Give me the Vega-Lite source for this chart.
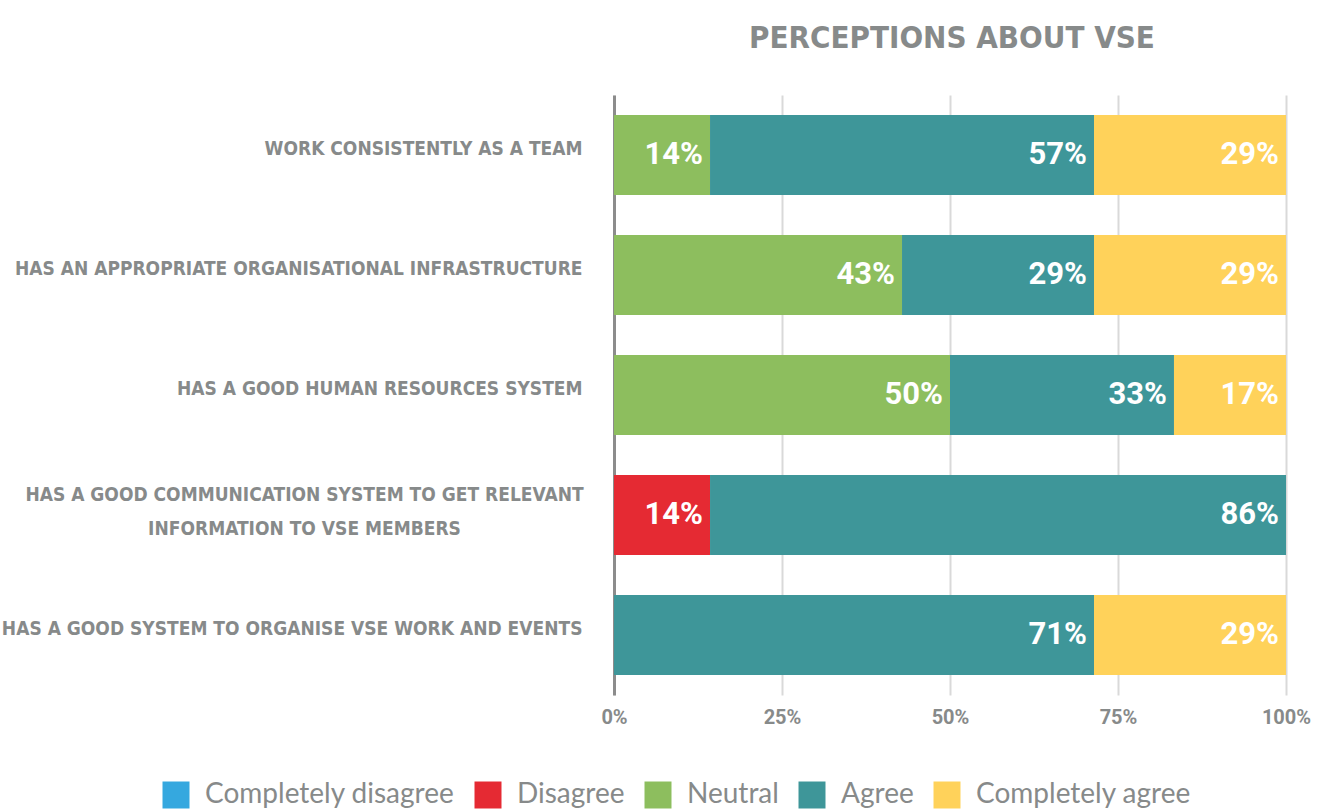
{
  "$schema": "https://vega.github.io/schema/vega-lite/v6.json",
  "autosize": {"type": "none"},
  "padding": {"left": 614, "top": 95, "right": 41, "bottom": 115},
  "width": 672,
  "height": 600,
  "background": "white",
  "title": {
    "text": "PERCEPTIONS ABOUT VSE",
    "anchor": "middle",
    "font": "DejaVu Sans Condensed",
    "fontSize": 31,
    "fontWeight": "bold",
    "color": "#878a8a",
    "offset": 40,
    "dx": 2
  },
  "data": {
    "values": [
      {"statement": "WORK CONSISTENTLY AS A TEAM", "response": "Neutral", "code": 3, "pct": 0.1429},
      {"statement": "WORK CONSISTENTLY AS A TEAM", "response": "Agree", "code": 4, "pct": 0.5714},
      {"statement": "WORK CONSISTENTLY AS A TEAM", "response": "Completely agree", "code": 5, "pct": 0.2857},
      {"statement": "HAS AN APPROPRIATE ORGANISATIONAL INFRASTRUCTURE", "response": "Neutral", "code": 3, "pct": 0.4286},
      {"statement": "HAS AN APPROPRIATE ORGANISATIONAL INFRASTRUCTURE", "response": "Agree", "code": 4, "pct": 0.2857},
      {"statement": "HAS AN APPROPRIATE ORGANISATIONAL INFRASTRUCTURE", "response": "Completely agree", "code": 5, "pct": 0.2857},
      {"statement": "HAS A GOOD HUMAN RESOURCES SYSTEM", "response": "Neutral", "code": 3, "pct": 0.5},
      {"statement": "HAS A GOOD HUMAN RESOURCES SYSTEM", "response": "Agree", "code": 4, "pct": 0.3333},
      {"statement": "HAS A GOOD HUMAN RESOURCES SYSTEM", "response": "Completely agree", "code": 5, "pct": 0.1667},
      {"statement": "HAS A GOOD COMMUNICATION SYSTEM TO GET RELEVANT|INFORMATION TO VSE MEMBERS", "response": "Disagree", "code": 2, "pct": 0.1429},
      {"statement": "HAS A GOOD COMMUNICATION SYSTEM TO GET RELEVANT|INFORMATION TO VSE MEMBERS", "response": "Agree", "code": 4, "pct": 0.8571},
      {"statement": "HAS A GOOD SYSTEM TO ORGANISE VSE WORK AND EVENTS", "response": "Agree", "code": 4, "pct": 0.7143},
      {"statement": "HAS A GOOD SYSTEM TO ORGANISE VSE WORK AND EVENTS", "response": "Completely agree", "code": 5, "pct": 0.2857}
    ]
  },
  "encoding": {
    "y": {
      "field": "statement",
      "type": "nominal",
      "sort": null,
      "title": null,
      "scale": {"paddingInner": 0.333, "paddingOuter": 0.1667},
      "axis": {
        "labelExpr": "split(datum.label, '|')",
        "labelFont": "DejaVu Sans Condensed",
        "labelFontSize": 19,
        "labelFontWeight": "bold",
        "labelColor": "#878a8a",
        "labelAlign": {"condition": {"test": "indexof(datum.value, '|') >= 0", "value": "center"}, "value": "right"},
        "labelPadding": {"condition": {"test": "indexof(datum.value, '|') >= 0", "value": 310}, "value": 32},
        "labelOffset": {"condition": {"test": "indexof(datum.value, '|') >= 0", "value": -20}, "value": -6},
        "labelLimit": 700,
        "labelLineHeight": 34,
        "ticks": false,
        "domain": true,
        "domainColor": "#8c8c8c",
        "domainWidth": 3,
        "grid": false
      }
    },
    "x": {
      "field": "pct",
      "type": "quantitative",
      "stack": "normalize",
      "title": null,
      "scale": {"domain": [0, 1]},
      "axis": {
        "format": ".0%",
        "values": [0, 0.25, 0.5, 0.75, 1],
        "grid": true,
        "gridColor": "#d9d9d9",
        "gridWidth": 2,
        "domain": false,
        "ticks": false,
        "labelFlush": false,
        "labelFont": "Roboto",
        "labelFontSize": 20,
        "labelFontWeight": "bold",
        "labelColor": "#878a8a",
        "labelPadding": 12,
        "labelBaseline": "top"
      }
    },
    "order": {"field": "code", "type": "quantitative"}
  },
  "layer": [
    {
      "mark": {"type": "bar"},
      "encoding": {
        "color": {
          "field": "response",
          "type": "nominal",
          "scale": {
            "domain": ["Completely disagree", "Disagree", "Neutral", "Agree", "Completely agree"],
            "range": ["#35a8df", "#e52a33", "#8dbe5e", "#3e9699", "#ffd25a"]
          },
          "legend": {
            "title": null,
            "orient": "none",
            "direction": "horizontal",
            "legendX": -452,
            "legendY": 686,
            "symbolType": "square",
            "symbolSize": 729,
            "symbolStrokeWidth": 0,
            "symbolOpacity": 1,
            "labelFont": "Lato",
            "labelFontSize": 28,
            "labelColor": "#878a8a",
            "labelOffset": 15,
            "columnPadding": 19,
            "labelLimit": 400
          }
        }
      }
    },
    {
      "mark": {
        "type": "text",
        "align": "right",
        "baseline": "middle",
        "dx": -7,
        "color": "white",
        "font": "Roboto",
        "fontSize": 31,
        "fontWeight": "bold"
      },
      "encoding": {
        "detail": {"field": "response", "type": "nominal"},
        "text": {"field": "pct", "type": "quantitative", "format": ".0%"}
      }
    }
  ],
  "config": {"view": {"stroke": null}}
}
